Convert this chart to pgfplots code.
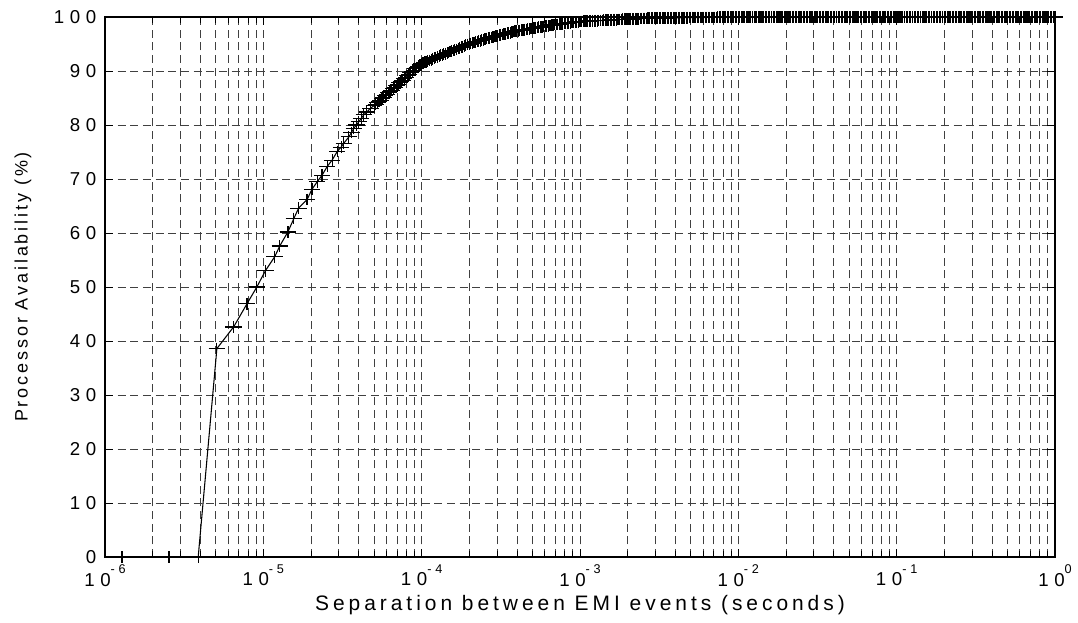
\documentclass[border=0pt]{standalone}
\usepackage{fontspec}
\setmainfont{Liberation Sans}
\newfontfamily\spacedfont[LetterSpace=30]{Liberation Sans}
\newfontfamily\xlabfont[LetterSpace=19]{Liberation Sans}
\newfontfamily\ylabfont[LetterSpace=16]{Liberation Sans}
\usepackage{pgfplots}
\pgfplotsset{compat=1.18}
\newcommand\tickfont{\spacedfont\fontsize{14}{15}\selectfont}
\newcommand\pw[1]{\tickfont 10\raisebox{9.6pt}{\fontsize{9.5}{9.5}\selectfont #1}}
\begin{document}
\begin{tikzpicture}
\begin{axis}[
    scale only axis,
    width=712.5pt, height=405pt,
    xmode=log,
    xmin=1e-6, xmax=1,
    ymin=0, ymax=100,
    ytick={0,10,...,100},
    xtick={1e-6,1e-5,1e-4,1e-3,1e-2,1e-1,1},
    xticklabels={\pw{-6},\pw{-5},\pw{-4},\pw{-3},\pw{-2},\pw{-1},\pw{0}},
    /pgf/number format/assume math mode=true,
    yticklabel style={font=\tickfont, xshift=-3pt},
    xticklabel style={anchor=north, yshift=-2pt},
    tick align=inside,
    major tick length=6pt,
    minor tick length=4.5pt,
    every tick/.style={black, line width=0.6pt},
    xmajorgrids, xminorgrids, ymajorgrids,
    grid style={black!75, line width=0.6pt, dash pattern=on 6pt off 3.5pt},
    axis line style={line width=1pt},
    xlabel={\xlabfont\fontsize{15.7}{17}\selectfont Separation between EMI events (seconds)},
    ylabel={\ylabfont\fontsize{13.5}{14}\selectfont Processor Availability (\%)},
    ylabel style={yshift=10pt},
    clip=false,
]
\addplot[black, line width=0.8pt, mark=+, mark size=4.4pt,
    mark options={xscale=1.4, line width=0.9pt}] coordinates {
(1.28e-6,0) (2.54e-6,0) (3.88e-6,0)
(5.09e-6,38.6) (6.49e-6,42.6) (7.89e-6,46.9) (9.1e-6,50.0)
(1.03e-5,53.0) (1.18e-5,55.6) (1.27e-5,57.6) (1.43e-5,60.2) (1.56e-5,62.7)
(1.67e-5,64.6) (1.89e-5,66.2) (2.03e-5,68.1) (2.19e-5,69.5) (2.35e-5,70.7)
(2.53e-5,72.3) (2.72e-5,73.5) (2.93e-5,75.1) (3.1e-5,75.9) (3.22e-5,76.6)
(3.47e-5,77.8) (3.6e-5,78.6) (3.73e-5,79.4) (3.87e-5,80.0) (4.01e-5,80.6)
(4.15e-5,81.2) (4.31e-5,81.9) (4.5e-5,82.4) (4.75e-5,83.1)
(5.01e-5,83.6) (5.25e-5,84.1) (5.5e-5,84.6) (5.75e-5,85.1) (6.03e-5,85.7)
(6.31e-5,86.2) (6.61e-5,86.7) (6.92e-5,87.3) (7.24e-5,87.8) (7.59e-5,88.3)
(7.94e-5,88.8) (8.32e-5,89.4) (8.71e-5,89.9) (9.12e-5,90.4) (9.55e-5,90.9)
(1.0e-4,91.3) (1.05e-4,91.6) (1.09e-4,91.8) (1.15e-4,92.1) (1.2e-4,92.4)
(1.26e-4,92.6) (1.31e-4,92.9) (1.38e-4,93.1) (1.45e-4,93.3) (1.51e-4,93.6)
(1.58e-4,93.8) (1.66e-4,94.0) (1.74e-4,94.3) (1.82e-4,94.5) (1.9e-4,94.8)
(2.0e-4,95.0) (2.09e-4,95.2) (2.19e-4,95.4) (2.29e-4,95.5) (2.4e-4,95.7)
(2.51e-4,95.9) (2.63e-4,96.1) (2.75e-4,96.2) (2.88e-4,96.4) (3.02e-4,96.5)
(3.16e-4,96.7) (3.31e-4,96.8) (3.47e-4,97.0) (3.63e-4,97.1) (3.8e-4,97.3)
(3.98e-4,97.4) (4.17e-4,97.5) (4.37e-4,97.6) (4.57e-4,97.7) (4.79e-4,97.8)
(5.01e-4,97.9) (5.25e-4,98.0) (5.5e-4,98.1) (5.75e-4,98.2) (6.03e-4,98.3)
(6.31e-4,98.4) (6.61e-4,98.5) (6.92e-4,98.6) (7.24e-4,98.6) (7.59e-4,98.7)
(7.94e-4,98.8) (8.32e-4,98.9) (8.71e-4,98.95) (9.12e-4,99.0) (9.55e-4,99.1)
(1.0e-3,99.15) (1.05e-3,99.2) (1.09e-3,99.22) (1.15e-3,99.25) (1.2e-3,99.28)
(1.26e-3,99.3) (1.31e-3,99.33) (1.38e-3,99.36) (1.45e-3,99.4) (1.51e-3,99.42)
(1.58e-3,99.45) (1.66e-3,99.5) (1.74e-3,99.52) (1.82e-3,99.55) (1.9e-3,99.58)
(2.0e-3,99.6) (2.09e-3,99.62) (2.19e-3,99.65) (2.29e-3,99.68) (2.4e-3,99.7)
(2.51e-3,99.72) (2.63e-3,99.74) (2.75e-3,99.75) (2.88e-3,99.77) (3.02e-3,99.78)
(3.16e-3,99.8) (3.31e-3,99.8) (3.47e-3,99.82) (3.63e-3,99.83) (3.8e-3,99.84)
(3.98e-3,99.85) (4.17e-3,99.86) (4.37e-3,99.87) (4.57e-3,99.88) (4.79e-3,99.88)
(5.01e-3,99.89) (5.25e-3,99.9) (5.5e-3,99.9) (5.75e-3,99.91) (6.03e-3,99.91)
(6.31e-3,99.92) (6.61e-3,99.92) (6.92e-3,99.93) (7.24e-3,99.93) (7.59e-3,99.94)
(7.94e-3,99.94) (8.32e-3,99.95) (8.71e-3,99.95) (9.12e-3,99.95) (9.55e-3,99.96)
(1.0e-2,99.96) (1.05e-2,99.96) (1.09e-2,99.97) (1.15e-2,99.97) (1.2e-2,99.97)
(1.26e-2,99.97) (1.31e-2,99.97) (1.38e-2,99.97) (1.45e-2,99.97) (1.51e-2,99.97)
(1.58e-2,99.97) (1.66e-2,99.97) (1.74e-2,99.97) (1.82e-2,99.98) (1.9e-2,99.98)
(2.0e-2,99.98) (2.09e-2,99.98) (2.19e-2,99.98) (2.29e-2,99.98) (2.4e-2,99.98)
(2.51e-2,99.98) (2.63e-2,99.98) (2.75e-2,99.98) (2.88e-2,99.98) (3.02e-2,99.98)
(3.16e-2,99.98) (3.31e-2,99.98) (3.47e-2,99.98) (3.63e-2,99.98) (3.8e-2,99.98)
(3.98e-2,99.98) (4.17e-2,99.99) (4.37e-2,99.99) (4.57e-2,99.99) (4.79e-2,99.99)
(5.01e-2,99.99) (5.25e-2,99.99) (5.5e-2,99.99) (5.75e-2,99.99) (6.03e-2,99.99)
(6.31e-2,99.99) (6.61e-2,99.99) (6.92e-2,99.99) (7.24e-2,99.99) (7.59e-2,99.99)
(7.94e-2,99.99) (8.32e-2,99.99) (8.71e-2,99.99) (9.12e-2,99.99) (9.55e-2,99.99)
(1.0e-1,99.99) (1.05e-1,99.99) (1.09e-1,99.99) (1.15e-1,99.99) (1.2e-1,99.99)
(1.26e-1,100) (1.31e-1,100) (1.38e-1,100) (1.45e-1,100) (1.51e-1,100)
(1.58e-1,100) (1.66e-1,100) (1.74e-1,100) (1.82e-1,100) (1.9e-1,100)
(2.0e-1,100) (2.09e-1,100) (2.19e-1,100) (2.29e-1,100) (2.4e-1,100)
(2.51e-1,100) (2.63e-1,100) (2.75e-1,100) (2.88e-1,100) (3.02e-1,100)
(3.16e-1,100) (3.31e-1,100) (3.47e-1,100) (3.63e-1,100) (3.8e-1,100)
(3.98e-1,100) (4.17e-1,100) (4.37e-1,100) (4.57e-1,100) (4.79e-1,100)
(5.01e-1,100) (5.25e-1,100) (5.5e-1,100) (5.75e-1,100) (6.03e-1,100)
(6.31e-1,100) (6.61e-1,100) (6.92e-1,100) (7.24e-1,100) (7.59e-1,100)
(7.94e-1,100) (8.32e-1,100) (8.71e-1,100) (9.12e-1,100) (9.55e-1,100)
(1.0,100)
};
% further observations lying on the same curve, drawn as marks only
\addplot[only marks, black, mark=+, mark size=4.4pt,
    mark options={xscale=1.4, line width=0.9pt}] coordinates {
(5.13e-5,83.85) (5.37e-5,84.35) (5.62e-5,84.85) (5.89e-5,85.4) (6.17e-5,85.95)
(6.46e-5,86.45) (6.76e-5,87.0) (7.08e-5,87.55) (7.41e-5,88.05) (7.76e-5,88.55)
(8.13e-5,89.1) (8.51e-5,89.65) (8.91e-5,90.15) (9.33e-5,90.65) (9.77e-5,91.1)
(1.02e-4,91.45) (1.07e-4,91.7) (1.12e-4,91.95) (1.17e-4,92.25) (1.23e-4,92.5)
(1.29e-4,92.75) (1.35e-4,93.0) (1.41e-4,93.2) (1.48e-4,93.45) (1.55e-4,93.7)
(1.62e-4,93.9) (1.7e-4,94.15) (1.78e-4,94.4) (1.86e-4,94.65) (1.95e-4,94.9)
(2.04e-4,95.1) (2.14e-4,95.3) (2.24e-4,95.45) (2.34e-4,95.6) (2.45e-4,95.8)
(2.57e-4,96.0) (2.69e-4,96.15) (2.82e-4,96.3) (2.95e-4,96.45) (3.09e-4,96.6)
(3.24e-4,96.75) (3.39e-4,96.9) (3.55e-4,97.05) (3.72e-4,97.2) (3.89e-4,97.35)
(4.07e-4,97.45) (4.27e-4,97.55) (4.47e-4,97.65) (4.68e-4,97.75) (4.9e-4,97.85)
(5.13e-4,97.95) (5.37e-4,98.05) (5.62e-4,98.15) (5.89e-4,98.25) (6.17e-4,98.35)
(6.46e-4,98.45) (6.76e-4,98.55) (7.08e-4,98.6) (7.41e-4,98.65) (7.76e-4,98.75)
(8.13e-4,98.85) (8.51e-4,98.92) (8.91e-4,98.98) (9.33e-4,99.05) (9.77e-4,99.12)
(1.02e-3,99.18) (1.07e-3,99.21) (1.12e-3,99.24) (1.17e-3,99.27) (1.23e-3,99.29)
(1.29e-3,99.32) (1.35e-3,99.35) (1.41e-3,99.38) (1.48e-3,99.41) (1.55e-3,99.44)
(1.62e-3,99.47) (1.7e-3,99.51) (1.78e-3,99.54) (1.86e-3,99.57) (1.95e-3,99.59)
(2.04e-3,99.61) (2.14e-3,99.64) (2.24e-3,99.67) (2.34e-3,99.69) (2.45e-3,99.71)
(2.57e-3,99.73) (2.69e-3,99.75) (2.82e-3,99.76) (2.95e-3,99.78) (3.09e-3,99.79)
(3.24e-3,99.8) (3.39e-3,99.81) (3.55e-3,99.83) (3.72e-3,99.84) (3.89e-3,99.85)
(4.07e-3,99.86) (4.27e-3,99.87) (4.47e-3,99.88) (4.68e-3,99.88) (4.9e-3,99.89)
(5.13e-3,99.9) (5.37e-3,99.9) (5.62e-3,99.91) (5.89e-3,99.91) (6.17e-3,99.92)
(6.46e-3,99.92) (6.76e-3,99.93) (7.08e-3,99.93) (7.41e-3,99.94) (7.76e-3,99.94)
(8.13e-3,99.95) (8.51e-3,99.95) (8.91e-3,99.95) (9.33e-3,99.96) (9.77e-3,99.96)
(1.02e-2,99.97) (1.07e-2,99.97) (1.12e-2,99.97) (1.17e-2,99.97) (1.23e-2,99.97)
(1.29e-2,99.97) (1.35e-2,99.97) (1.41e-2,99.97) (1.48e-2,99.97) (1.55e-2,99.97)
(1.62e-2,99.97) (1.7e-2,99.97) (1.78e-2,99.97) (1.86e-2,99.98) (1.95e-2,99.98)
(2.04e-2,99.98) (2.14e-2,99.98) (2.24e-2,99.98) (2.34e-2,99.98) (2.45e-2,99.98)
(2.57e-2,99.98) (2.69e-2,99.98) (2.82e-2,99.98) (2.95e-2,99.98) (3.09e-2,99.98)
(3.24e-2,99.98) (3.39e-2,99.98) (3.55e-2,99.98) (3.72e-2,99.98) (3.89e-2,99.98)
(4.07e-2,99.98) (4.27e-2,99.99) (4.47e-2,99.99) (4.68e-2,99.99) (4.9e-2,99.99)
(5.13e-2,99.99) (5.37e-2,99.99) (5.62e-2,99.99) (5.89e-2,99.99) (6.17e-2,99.99)
(6.46e-2,99.99) (6.76e-2,99.99) (7.08e-2,99.99) (7.41e-2,99.99) (7.76e-2,99.99)
(8.13e-2,99.99) (8.51e-2,99.99) (8.91e-2,99.99) (9.33e-2,99.99) (9.77e-2,99.99)
(1.02e-1,99.99) (1.07e-1,99.99) (1.12e-1,99.99) (1.17e-1,99.99) (1.23e-1,99.99)
(1.29e-1,100) (1.35e-1,100) (1.41e-1,100) (1.48e-1,100) (1.55e-1,100)
(1.62e-1,100) (1.7e-1,100) (1.78e-1,100) (1.86e-1,100) (1.95e-1,100)
(2.04e-1,100) (2.14e-1,100) (2.24e-1,100) (2.34e-1,100) (2.45e-1,100)
(2.57e-1,100) (2.69e-1,100) (2.82e-1,100) (2.95e-1,100) (3.09e-1,100)
(3.24e-1,100) (3.39e-1,100) (3.55e-1,100) (3.72e-1,100) (3.89e-1,100)
(4.07e-1,100) (4.27e-1,100) (4.47e-1,100) (4.68e-1,100) (4.9e-1,100)
(5.13e-1,100) (5.37e-1,100) (5.62e-1,100) (5.89e-1,100) (6.17e-1,100)
(6.46e-1,100) (6.76e-1,100) (7.08e-1,100) (7.41e-1,100) (7.76e-1,100)
(8.13e-1,100) (8.51e-1,100) (8.91e-1,100) (9.33e-1,100) (9.77e-1,100)
};
\end{axis}
\pgfresetboundingbox
\path (-78.75pt,-48.75pt) rectangle (729.75pt,417.75pt);
\end{tikzpicture}
\end{document}
